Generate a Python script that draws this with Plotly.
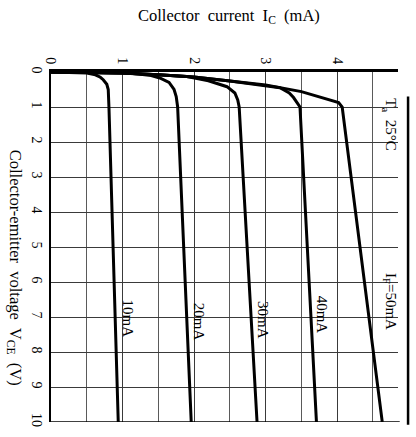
import plotly.graph_objects as go

# Data (I_C in mA vs V_CE in V)
ic_ticks = [0, 1, 2, 3, 4]
vce_ticks = list(range(11))

v_10 = [0, 0.03, 0.08, 0.15, 0.22, 0.35, 0.5, 1, 10]
i_10 = [0, 0.50, 0.62, 0.69, 0.73, 0.78, 0.80, 0.81, 0.94]

v_20 = [0, 0.01, 0.03, 0.06, 0.10, 0.17, 0.30, 0.50, 0.70, 1, 10]
i_20 = [0, 0.60, 1.00, 1.22, 1.40, 1.52, 1.65, 1.72, 1.75, 1.77, 1.96]

v_30 = [0, 0.01, 0.03, 0.08, 0.13, 0.25, 0.42, 0.60, 0.80, 1, 10]
i_30 = [0, 0.60, 1.00, 1.50, 1.90, 2.20, 2.46, 2.57, 2.61, 2.63, 2.88]

v_40 = [0, 0.01, 0.03, 0.08, 0.14, 0.26, 0.36, 0.45, 0.60, 0.73, 1, 10]
i_40 = [0, 0.60, 1.00, 1.50, 2.00, 2.50, 2.90, 3.20, 3.33, 3.39, 3.48, 3.71]

v_50 = [0, 0.01, 0.03, 0.08, 0.14, 0.26, 0.37, 0.56, 0.87, 1.0, 10]
i_50 = [0, 0.60, 1.00, 1.50, 2.00, 2.50, 3.00, 3.50, 4.02, 4.07, 4.63]

curve_labels = ["10mA", "20mA", "30mA", "40mA", "I<sub>F</sub>=50mA"]
temp_label = "T<sub>a</sub>  25°C"

FONT = "Liberation Serif, Times New Roman, serif"

fig = go.Figure()
for v, i in [(v_10, i_10), (v_20, i_20), (v_30, i_30), (v_40, i_40), (v_50, i_50)]:
    fig.add_trace(go.Scatter(x=i, y=v, mode="lines",
                             line=dict(color="black", width=3),
                             hoverinfo="skip", showlegend=False))

label_pos = [(1.08, 7.05), (2.08, 7.13), (2.97, 7.1), (3.80, 6.93), (4.74, 6.55)]
for text, (x, y) in zip(curve_labels, label_pos):
    fig.add_annotation(x=x, y=y, text=text, showarrow=False, textangle=90,
                       xanchor="center", yanchor="middle",
                       font=dict(family=FONT, size=15, color="black"),
                       xref="x", yref="y")
fig.add_annotation(x=4.74, y=1.5, text=temp_label, showarrow=False, textangle=90,
                   xanchor="center", yanchor="middle",
                   font=dict(family=FONT, size=15, color="black"))

# axis titles
fig.add_annotation(x=0.513, y=1.16, xref="paper", yref="paper",
                   xanchor="center", yanchor="middle",
                   text="Collector  current  I<sub>C</sub>  (mA)", showarrow=False,
                   font=dict(family=FONT, size=16.5, color="black"))
fig.add_annotation(x=-0.103, y=0.44, xref="paper", yref="paper", textangle=90,
                   xanchor="center", yanchor="middle",
                   text="Collector-emitter  voltage  V<sub>CE</sub>  (V)", showarrow=False,
                   font=dict(family=FONT, size=16.5, color="black"))

# bottom border and right edge line
fig.add_shape(type="line", xref="paper", yref="y", x0=0, x1=1.005, y0=10, y1=10,
              line=dict(color="black", width=1.5))
fig.add_shape(type="line", xref="paper", yref="paper", x0=1.029, x1=1.029, y0=0.93, y1=-0.008,
              line=dict(color="black", width=2.5))

fig.update_layout(
    width=416, height=437,
    margin=dict(l=51, r=18, t=72, b=10),
    paper_bgcolor="white", plot_bgcolor="white",
    font=dict(family=FONT, size=14, color="black"),
    xaxis=dict(side="top", range=[0, 4.85], tickvals=ic_ticks, tickangle=90,
               showgrid=True, gridcolor="#3a3a3a", gridwidth=1,
               minor=dict(dtick=0.5, showgrid=True, gridcolor="#5a5a5a", gridwidth=1),
               showline=True, linecolor="black", linewidth=2.5,
               zeroline=False, ticks="", fixedrange=True),
    yaxis=dict(range=[10, 0], tickvals=vce_ticks, tickangle=90,
               showgrid=True, gridcolor="#3a3a3a", gridwidth=1,
               showline=True, linecolor="black", linewidth=1.5,
               zeroline=False, ticks="", fixedrange=True),
)

fig.write_html("out.html")
